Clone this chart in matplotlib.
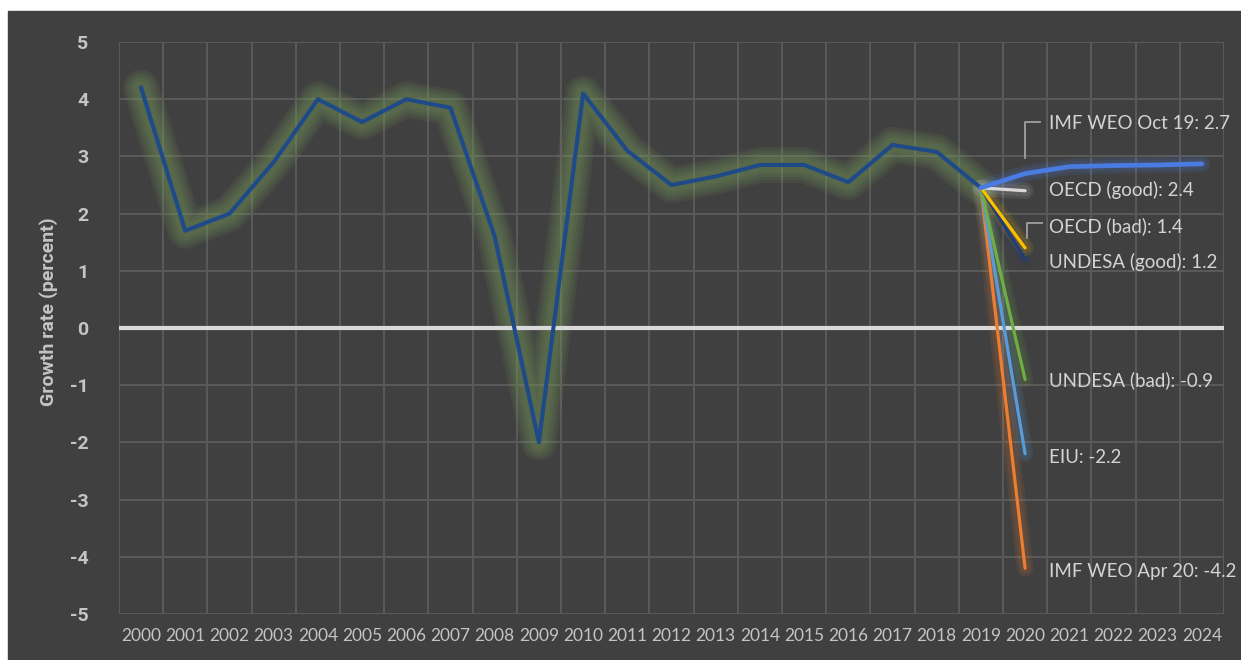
import numpy as np
import matplotlib.pyplot as plt
from matplotlib.patches import Rectangle

plt.rcParams['axes.unicode_minus'] = False

# -------------------------------
# Data
# -------------------------------
years = list(range(2000, 2025))

hist_years = list(range(2000, 2020))
hist_growth = [4.2, 1.7, 2.0, 2.9, 4.0, 3.6, 4.0, 3.85, 1.6, -2.0,
               4.1, 3.1, 2.5, 2.65, 2.85, 2.85, 2.55, 3.2, 3.08, 2.45]

# forecasts, all starting from the 2019 value
imf_oct19_years = [2019, 2020, 2021, 2022, 2023, 2024]
imf_oct19 = [2.45, 2.7, 2.82, 2.84, 2.85, 2.87]

short_years = [2019, 2020]
oecd_good = [2.45, 2.4]
oecd_bad = [2.45, 1.4]
undesa_good = [2.45, 1.2]
undesa_bad = [2.45, -0.9]
eiu = [2.45, -2.2]
imf_apr20 = [2.45, -4.2]

y_ticks = [5, 4, 3, 2, 1, 0, -1, -2, -3, -4, -5]

# -------------------------------
# Style
# -------------------------------
bg = '#404040'
grid_col = '#5a5a5a'
txt_col = '#d4d4d4'
tick_col = '#c4c4c4'
fam = ['Lato', 'DejaVu Sans']
bold_fam = ['Roboto', 'DejaVu Sans']

W, H = 1241, 660
fig = plt.figure(figsize=(W / 100, H / 100), dpi=100, facecolor='white')
fig.patches.append(Rectangle((8 / W, 0), 1 - 8 / W, (H - 11) / H,
                             transform=fig.transFigure, color=bg, zorder=-10))
ax = fig.add_axes([119 / W, (H - 614) / H, (1224 - 119) / W, (614 - 42) / H])
ax.set_facecolor(bg)

def xi(yrs):
    return [years.index(y) for y in yrs]

def glow(x, y, color, widths, alpha):
    for w in widths:
        ax.plot(x, y, color=color, lw=w, alpha=alpha,
                solid_capstyle='round', solid_joinstyle='round', zorder=2)

# historical line with green glow
hx = xi(hist_years)
glow(hx, hist_growth, '#75985a', [26, 22, 18, 14, 10], 0.12)
ax.plot(hx, hist_growth, color='#1f4a8a', lw=2.9, zorder=5,
        solid_joinstyle='round')

# forecasts
sx = xi(short_years)
fc = [
    (imf_apr20, '#ed7d31'),
    (eiu, '#5b9bd5'),
    (undesa_bad, '#70ad47'),
    (undesa_good, '#1f3d78'),
    (oecd_bad, '#ffc000'),
    (oecd_good, '#d9d9d9'),
]
for vals, col in fc:
    glow(sx, vals, col, [12, 8], 0.10)
    ax.plot(sx, vals, color=col, lw=2.3, zorder=6, solid_capstyle='round')

ox = xi(imf_oct19_years)
glow(ox, imf_oct19, '#4a7be0', [12, 8], 0.12)
ax.plot(ox, imf_oct19, color='#4a7be0', lw=3.4, zorder=7, solid_capstyle='round')

# zero line
ax.axhline(0, color='#d9d9d9', lw=3, zorder=4)

# -------------------------------
# Labels on the right
# -------------------------------
lab_x = years.index(2020) + 0.54
labels = [
    ('IMF WEO Oct 19', imf_oct19[1], 3.58),
    ('OECD (good)', oecd_good[1], 2.41),
    ('OECD (bad)', oecd_bad[1], 1.78),
    ('UNDESA (good)', undesa_good[1], 1.15),
    ('UNDESA (bad)', undesa_bad[1], -0.91),
    ('EIU', eiu[1], -2.26),
    ('IMF WEO Apr 20', imf_apr20[1], -4.25),
]
for name, v, ypos in labels:
    ax.text(lab_x, ypos, f'{name}: {v}', color=txt_col, fontsize=13.5,
            family=fam, ha='left', va='center', clip_on=False, zorder=8)

# leader lines
i20 = years.index(2020)
ax.plot([i20, i20, i20 + 0.34], [2.97, 3.6, 3.6], color='#a0a0a0', lw=1.3, zorder=8)
ax.plot([i20 + 0.38, i20 + 0.04, i20 + 0.04], [1.84, 1.84, 1.57],
        color='#a0a0a0', lw=1.3, zorder=8)

# -------------------------------
# Axes
# -------------------------------
ax.set_xlim(-0.5, len(years) - 0.5)
ax.set_ylim(-5, 5)
ax.set_xticks(range(len(years)))
ax.set_xticklabels([str(y) for y in years], family=fam, fontsize=12.5,
                   color=tick_col)
ax.set_xticks(np.arange(-0.5, len(years)), minor=True)
ax.set_yticks(y_ticks)
ax.set_yticklabels([str(t) for t in y_ticks], fontweight='bold', fontsize=14,
                   color=tick_col, family=bold_fam)
ax.tick_params(axis='x', which='both', length=0, pad=10)
ax.tick_params(axis='y', length=0, pad=22)
ax.grid(True, axis='x', which='minor', color=grid_col, lw=1.4)
ax.grid(True, axis='y', which='major', color=grid_col, lw=1.4)
ax.grid(False, axis='x', which='major')
for s in ax.spines.values():
    s.set_visible(False)

ax.set_ylabel('Growth rate (percent)', color=tick_col, fontsize=14,
              fontweight='bold', family=bold_fam)
ax.yaxis.set_label_coords(-0.055, 0.528)

plt.savefig('out.png', dpi=100, facecolor='white')
